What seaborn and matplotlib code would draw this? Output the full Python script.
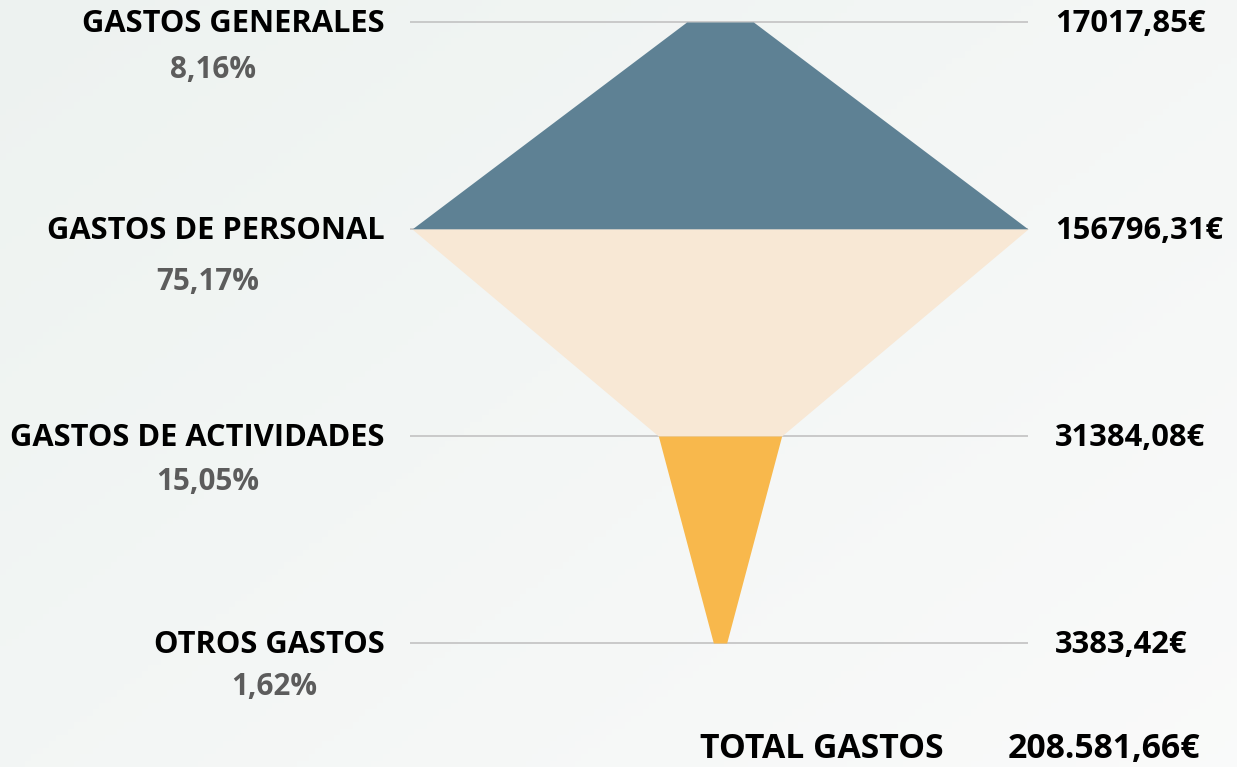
import numpy as np
import matplotlib.pyplot as plt
import seaborn as sns

# data
categories = ["GASTOS GENERALES", "GASTOS DE PERSONAL", "GASTOS DE ACTIVIDADES", "OTROS GASTOS"]
values = [17017.85, 156796.31, 31384.08, 3383.42]
value_labels = ["17017,85€", "156796,31€", "31384,08€", "3383,42€"]
percent_labels = ["8,16%", "75,17%", "15,05%", "1,62%"]
total_label = "TOTAL GASTOS"
total_value = "208.581,66€"
colors = ["#5E8194", "#F8E8D5", "#F8B84C"]

sns.set_theme(style="white")
plt.rcParams['font.family'] = ['Open Sans', 'DejaVu Sans']

W, H = 1237, 767
fig = plt.figure(figsize=(W / 100, H / 100), dpi=100)
ax = fig.add_axes([0, 0, 1, 1])
ax.set_xlim(0, W)
ax.set_ylim(H, 0)
ax.axis('off')

# soft background
gx, gy = np.meshgrid(np.linspace(0, 1, 200), np.linspace(0, 1, 120))
grad = np.clip(0.55 * gx + 0.45 * gy, 0, 1)
c0 = np.array([0.93, 0.95, 0.942])
c1 = np.array([0.98, 0.982, 0.981])
img = c0[None, None, :] * (1 - grad[..., None]) + c1[None, None, :] * grad[..., None]
ax.imshow(img, extent=[0, W, H, 0], aspect='auto', zorder=0)

# layout
cx = 720
top = 22
step = 207
scale = 616 / max(values)
levels = [top + i * step for i in range(len(values))]
half = [v * scale / 2 for v in values]
line_half = max(values) * scale / 2

for i, y in enumerate(levels):
    ax.hlines(y, cx - line_half - 2, cx + line_half, color="#C6C6C6", lw=1.3, zorder=1)

for i in range(len(values) - 1):
    ys = [levels[i], levels[i + 1]]
    ax.fill_betweenx(ys, [cx - half[i], cx - half[i + 1]], [cx + half[i], cx + half[i + 1]],
                     color=colors[i], lw=0, zorder=2)

fs = 22.2
pct_x = [213, 208, 208, 274]
pct_dy = [48, 53, 46, 44]
for i, y in enumerate(levels):
    ax.text(385, y + 2, categories[i], ha='right', va='center', fontsize=fs,
            fontweight='bold', color='black', zorder=3)
    ax.text(pct_x[i], y + pct_dy[i], percent_labels[i], ha='center', va='center', fontsize=21.3,
            fontweight='bold', color='#5C5C5C', zorder=3)
    ax.text(1055, y + 2, value_labels[i], ha='left', va='center', fontsize=fs,
            fontweight='bold', color='black', zorder=3)

ax.text(700, 749, total_label, ha='left', va='center', fontsize=24.3,
        fontweight='bold', color='black', zorder=3)
ax.text(1008, 749, total_value, ha='left', va='center', fontsize=24.3,
        fontweight='bold', color='black', zorder=3)

fig.savefig("out.png", dpi=100)
plt.close(fig)
